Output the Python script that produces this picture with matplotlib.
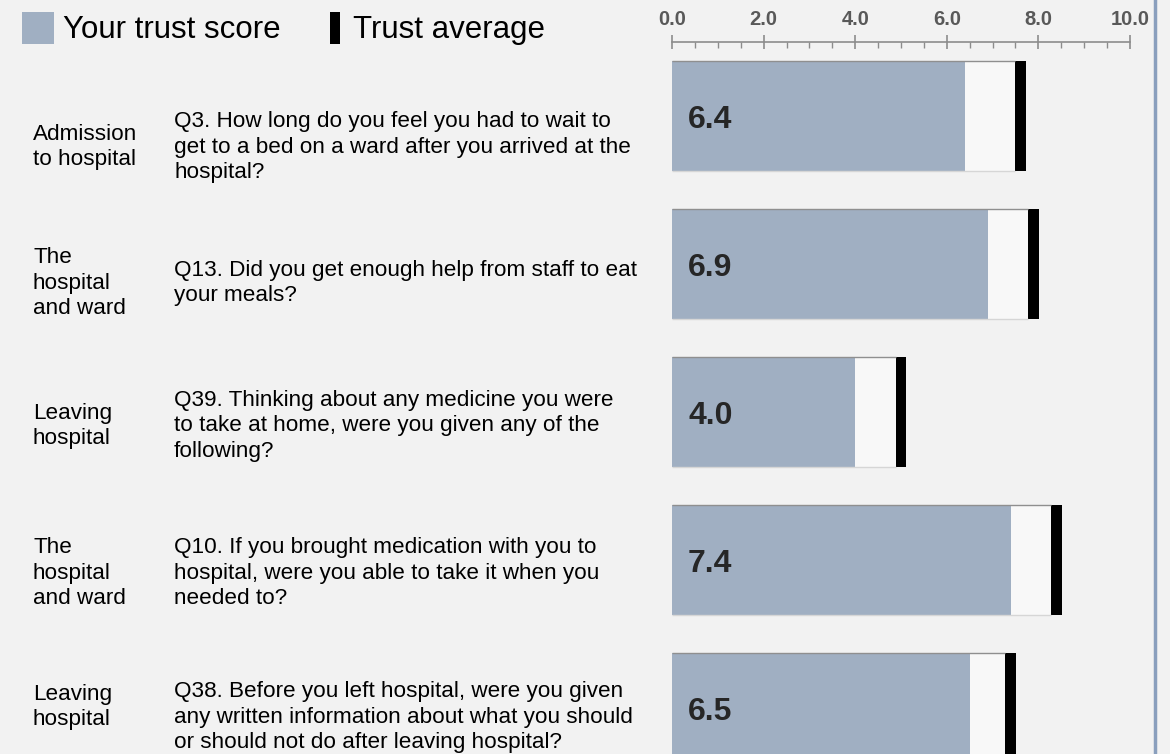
import matplotlib
matplotlib.use("Agg")
import matplotlib.pyplot as plt
from matplotlib.patches import Rectangle
from matplotlib.lines import Line2D
from matplotlib.ticker import MultipleLocator

# ---- data ----
sections = ["Admission\nto hospital", "The\nhospital\nand ward", "Leaving\nhospital",
            "The\nhospital\nand ward", "Leaving\nhospital"]
questions = [
    "Q3. How long do you feel you had to wait to\nget to a bed on a ward after you arrived at the\nhospital?",
    "Q13. Did you get enough help from staff to eat\nyour meals?",
    "Q39. Thinking about any medicine you were\nto take at home, were you given any of the\nfollowing?",
    "Q10. If you brought medication with you to\nhospital, were you able to take it when you\nneeded to?",
    "Q38. Before you left hospital, were you given\nany written information about what you should\nor should not do after leaving hospital?",
]
trust_score = [6.4, 6.9, 4.0, 7.4, 6.5]
trust_average = [7.6, 7.9, 5.0, 8.4, 7.4]
x_ticks = [0, 2, 4, 6, 8, 10]
x_ticklabels = ["0.0", "2.0", "4.0", "6.0", "8.0", "10.0"]
legend_labels = ["Your trust score", "Trust average"]

# ---- style ----
W, H = 1170, 754
BG = "#f2f2f2"
BLUE = "#a0afc2"
BOXC = "#f8f8f8"
FONT = "Liberation Sans"
plt.rcParams["font.family"] = [FONT, "DejaVu Sans"]

fig = plt.figure(figsize=(W / 100, H / 100), dpi=100, facecolor=BG)

def fx(px):
    return px / W

def fy(py):
    return 1 - py / H

ax_left, ax_right, ax_top = 672, 1130, 42
ax = fig.add_axes([fx(ax_left), 0, fx(ax_right - ax_left), 1 - ax_top / H])
ax.set_facecolor(BG)

row_px = 148.0
bar_h = 110.0 / row_px
mark_w = 0.24
n = len(trust_score)
ys = list(range(n))

ax.set_xlim(0, 10)
ax.set_ylim(-0.5 + (H - ax_top) / row_px, -0.5)

for y, s, a in zip(ys, trust_score, trust_average):
    left_of_mark = a - mark_w / 2
    ax.barh(y, left_of_mark, height=bar_h, color=BOXC, edgecolor="none", zorder=1)
    ax.barh(y, s, height=bar_h, color=BLUE, edgecolor="none", zorder=2)
    ax.barh(y, mark_w, left=left_of_mark, height=bar_h, color="black", edgecolor="none", zorder=3)
    ax.hlines(y - bar_h / 2, 0, left_of_mark, color="#8f8f8f", lw=1.0, zorder=4)
    ax.hlines(y + bar_h / 2, 0, left_of_mark, color="#d6d6d6", lw=1.0, zorder=4)
    ax.text(0.35, y + 0.081, f"{s:.1f}", fontsize=23, fontweight="bold",
            color="#262626", va="baseline", ha="left", zorder=5)

# axis on top
for side in ["left", "right", "bottom"]:
    ax.spines[side].set_visible(False)
ax.spines["top"].set_color("#8c8c8c")
ax.spines["top"].set_linewidth(1.2)
ax.xaxis.tick_top()
ax.set_xticks(x_ticks)
ax.set_xticklabels(x_ticklabels, fontsize=14.5, fontweight="bold", color="#595959")
ax.xaxis.set_minor_locator(MultipleLocator(0.5))
ax.tick_params(axis="x", which="major", direction="inout", length=10, width=1.2,
               color="#8c8c8c", pad=4.5)
ax.tick_params(axis="x", which="minor", direction="in", length=4, width=1.0,
               color="#8c8c8c")
ax.set_yticks([])
for lbl in ax.get_xticklabels():
    lbl.set_clip_on(False)

# left-hand text columns
cat_y = [147, 283, 426, 573, 707]
q_y = [147, 283, 426, 573, 717]
for sec, q, cy, qy in zip(sections, questions, cat_y, q_y):
    fig.text(fx(33), fy(cy), sec, fontsize=16.2, color="#000000", va="center",
             ha="left", linespacing=1.28)
    fig.text(fx(174), fy(qy), q, fontsize=16.2, color="#000000", va="center",
             ha="left", linespacing=1.28)

# legend
fig.patches.append(Rectangle((fx(22), fy(44)), fx(32), 32 / H, transform=fig.transFigure,
                             facecolor=BLUE, edgecolor="none"))
fig.text(fx(63), fy(30), legend_labels[0], fontsize=22.5, va="center", ha="left", color="#000000")
fig.patches.append(Rectangle((fx(330), fy(44)), fx(10), 32 / H, transform=fig.transFigure,
                             facecolor="black", edgecolor="none"))
fig.text(fx(353), fy(30), legend_labels[1], fontsize=22.5, va="center", ha="left", color="#000000")

# right border
fig.add_artist(Line2D([fx(1154.5), fx(1154.5)], [0, 1], transform=fig.transFigure,
                      color="#8a9fbd", lw=2.5))

fig.savefig("out.png", dpi=100, facecolor=BG)
